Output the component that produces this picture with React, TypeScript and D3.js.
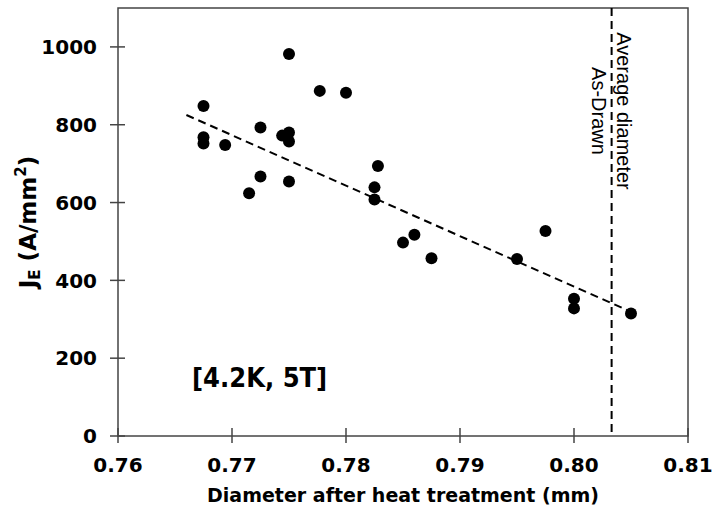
import React from 'react';
import * as d3 from 'd3';

// measured points: diameter after HT (mm) vs engineering current density
const diameters = [
	0.775, 0.7777, 0.78, 0.7675, 0.7725, 0.7744, 0.775, 0.775, 0.7675, 0.7675,
	0.7694, 0.7725, 0.775, 0.7715, 0.7828, 0.7825, 0.7825, 0.786, 0.785, 0.7875,
	0.7975, 0.795, 0.8, 0.8, 0.805,
];
const jeValues = [
	982, 887, 882, 848, 793, 772, 780, 757, 768, 752, 748, 667, 654, 624, 694,
	639, 608, 517, 497, 457, 527, 455, 353, 328, 315,
];
const trendX = [0.766, 0.8047];
const trendY = [825, 323];
const avgDrawnDiameter = 0.8033;
const xTicks = [0.76, 0.77, 0.78, 0.79, 0.8, 0.81];
const yTicks = [0, 200, 400, 600, 800, 1000];

const App = () => {
	const svgWidth = 715;
	const svgHeight = 506;
	const margin = { top: 8, right: 27, bottom: 70, left: 118 },
		width = svgWidth - margin.left - margin.right,
		height = svgHeight - margin.top - margin.bottom;

	const xScale = d3.scaleLinear().domain([0.76, 0.81]).range([0, width]);
	const yScale = d3.scaleLinear().domain([0, 1100]).range([height, 0]);

	const trendLine = d3
		.line<number>()
		.x((d) => xScale(d))
		.y((d, i) => yScale(trendY[i]));

	const axisColor = '#444';
	const tickFont = 'DejaVu Sans, Verdana, sans-serif';
	const calibriLike = 'Liberation Sans Narrow, Arial Narrow, sans-serif';

	return (
		<svg
			width={svgWidth}
			height={svgHeight}
			style={{ position: 'absolute', left: 0, top: 0, background: 'white' }}
		>
			<g transform={`translate(${margin.left},${margin.top})`}>
				{/* frame */}
				<rect
					x={0}
					y={0}
					width={width}
					height={height}
					fill='none'
					stroke={axisColor}
					strokeWidth={1.5}
				/>

				{/* x ticks */}
				{xTicks.map((t) => (
					<g key={'x' + t} transform={`translate(${xScale(t)},${height})`}>
						<line y1={-8} y2={7} stroke={axisColor} strokeWidth={1.5} />
						<text
							y={36}
							textAnchor='middle'
							fontFamily={tickFont}
							fontWeight='bold'
							fontSize={20}
							fill='black'
						>
							{t.toFixed(2)}
						</text>
					</g>
				))}

				{/* y ticks */}
				{yTicks.map((t) => (
					<g key={'y' + t} transform={`translate(0,${yScale(t)})`}>
						<line x1={-8} x2={7} stroke={axisColor} strokeWidth={1.5} />
						<text
							x={-21}
							dy='0.36em'
							textAnchor='end'
							fontFamily={tickFont}
							fontWeight='bold'
							fontSize={20}
							fill='black'
						>
							{t}
						</text>
					</g>
				))}

				{/* as-drawn reference line */}
				<line
					x1={xScale(avgDrawnDiameter)}
					x2={xScale(avgDrawnDiameter)}
					y1={0}
					y2={height}
					stroke='black'
					strokeWidth={2}
					strokeDasharray='8,5'
				/>
				<g
					transform={`translate(${xScale(avgDrawnDiameter) + 5},${103}) rotate(90)`}
					fontFamily={calibriLike}
					fontSize={20}
					fill='black'
				>
					<text textAnchor='middle'>Average diameter</text>
					<text textAnchor='middle' y={25}>
						As-Drawn
					</text>
				</g>

				{/* trend line */}
				<path
					d={trendLine(trendX) || ''}
					fill='none'
					stroke='black'
					strokeWidth={2}
					strokeDasharray='8,5'
				/>

				{/* points */}
				{diameters.map((d, i) => (
					<circle
						key={i}
						cx={xScale(d)}
						cy={yScale(jeValues[i])}
						r={6}
						fill='black'
					/>
				))}

				<text
					x={74}
					y={379}
					fontFamily='DejaVu Sans Condensed, DejaVu Sans, sans-serif'
					fontWeight='bold'
					fontSize={27}
					fill='black'
				>
					[4.2K, 5T]
				</text>
			</g>

			{/* axis titles */}
			<text
				x={margin.left + width / 2}
				y={502}
				textAnchor='middle'
				fontFamily={tickFont}
				fontWeight='bold'
				fontSize={19}
				fill='black'
			>
				Diameter after heat treatment (mm)
			</text>
			<text
				transform={`translate(36,${margin.top + height / 2}) rotate(-90)`}
				textAnchor='middle'
				fontFamily={tickFont}
				fontWeight='bold'
				fontSize={23}
				fill='black'
			>
				<tspan>J</tspan>
				<tspan fontSize={15} dy={4}>
					E
				</tspan>
				<tspan dy={-4}> (A/mm</tspan>
				<tspan fontSize={15} dy={-10}>
					2
				</tspan>
				<tspan dy={10}>)</tspan>
			</text>
		</svg>
	);
};

export default App;
